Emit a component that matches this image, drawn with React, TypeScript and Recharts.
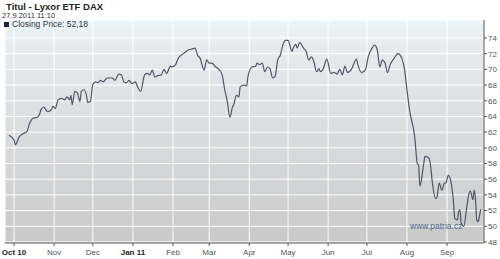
import React from "react";
import { LineChart, Line, XAxis, YAxis, CartesianGrid } from "recharts";

// closing prices (27.9.2010 - 27.9.2011)
const dates = [
  "2010-09-27", "2010-10-01", "2010-10-02", "2010-10-05", "2010-10-09", "2010-10-11", "2010-10-13",
  "2010-10-16", "2010-10-19", "2010-10-21", "2010-10-22", "2010-10-24", "2010-10-27", "2010-10-30",
  "2010-10-31", "2010-11-02", "2010-11-04", "2010-11-07", "2010-11-09", "2010-11-11", "2010-11-13",
  "2010-11-14", "2010-11-15", "2010-11-17", "2010-11-19", "2010-11-21", "2010-11-22", "2010-11-24",
  "2010-11-26", "2010-11-27", "2010-11-29", "2010-12-01", "2010-12-03", "2010-12-05", "2010-12-07",
  "2010-12-09", "2010-12-12", "2010-12-16", "2010-12-18", "2010-12-21", "2010-12-23", "2010-12-25",
  "2010-12-27", "2010-12-29", "2010-12-31", "2011-01-03", "2011-01-04", "2011-01-07", "2011-01-10",
  "2011-01-12", "2011-01-14", "2011-01-16", "2011-01-18", "2011-01-20", "2011-01-23", "2011-01-25",
  "2011-01-27", "2011-01-30", "2011-01-31", "2011-02-03", "2011-02-05", "2011-02-09", "2011-02-13",
  "2011-02-16", "2011-02-18", "2011-02-20", "2011-02-22", "2011-02-25", "2011-02-27", "2011-03-01",
  "2011-03-03", "2011-03-06", "2011-03-08", "2011-03-11", "2011-03-13", "2011-03-15", "2011-03-17",
  "2011-03-19", "2011-03-20", "2011-03-22", "2011-03-24", "2011-03-25", "2011-03-28", "2011-03-30",
  "2011-03-31", "2011-04-03", "2011-04-06", "2011-04-07", "2011-04-09", "2011-04-11", "2011-04-13",
  "2011-04-15", "2011-04-17", "2011-04-19", "2011-04-21", "2011-04-23", "2011-04-25", "2011-04-27",
  "2011-04-29", "2011-05-01", "2011-05-04", "2011-05-05", "2011-05-07", "2011-05-08", "2011-05-10",
  "2011-05-13", "2011-05-15", "2011-05-17", "2011-05-19", "2011-05-21", "2011-05-23", "2011-05-25",
  "2011-05-26", "2011-05-28", "2011-05-31", "2011-06-03", "2011-06-06", "2011-06-08", "2011-06-10",
  "2011-06-12", "2011-06-14", "2011-06-16", "2011-06-19", "2011-06-23", "2011-06-24", "2011-06-27",
  "2011-06-30", "2011-07-02", "2011-07-05", "2011-07-07", "2011-07-09", "2011-07-11", "2011-07-13",
  "2011-07-15", "2011-07-17", "2011-07-19", "2011-07-22", "2011-07-25", "2011-07-28", "2011-07-30",
  "2011-08-01", "2011-08-03", "2011-08-07", "2011-08-09", "2011-08-10", "2011-08-11", "2011-08-14",
  "2011-08-15", "2011-08-18", "2011-08-19", "2011-08-21", "2011-08-23", "2011-08-24", "2011-08-26",
  "2011-08-28", "2011-08-30", "2011-08-31", "2011-09-02", "2011-09-04", "2011-09-06", "2011-09-07",
  "2011-09-09", "2011-09-10", "2011-09-11", "2011-09-12", "2011-09-14", "2011-09-16", "2011-09-18",
  "2011-09-19", "2011-09-21", "2011-09-22", "2011-09-23", "2011-09-24", "2011-09-25", "2011-09-26",
  "2011-09-27",
];

const closes = [
  61.6, 61.0, 60.4, 61.4, 61.9, 62.1, 63.1,
  63.8, 63.9, 64.4, 64.9, 65.2, 64.6, 64.9,
  65.3, 65.0, 66.1, 66.3, 66.1, 66.5, 66.1,
  66.7, 65.5, 67.2, 67.0, 65.9, 67.2, 67.4,
  66.7, 65.8, 65.9, 68.1, 68.4, 68.3, 68.6,
  68.4, 68.9, 68.9, 68.6, 69.4, 69.3, 68.4,
  68.3, 68.6, 68.2, 68.4, 68.0, 67.2, 69.3,
  69.5, 69.3, 69.9, 69.0, 69.2, 69.3, 70.0,
  69.5, 70.4, 70.3, 70.6, 71.4, 72.0, 72.5,
  72.6, 72.7, 71.8, 71.4, 69.9, 71.2, 70.8,
  70.8, 70.3, 70.1, 69.3, 67.4, 65.9, 63.9,
  65.2, 65.5, 66.7, 66.5, 67.8, 68.0, 67.9,
  69.1, 70.3, 70.4, 70.8, 70.6, 70.8, 69.7,
  70.3, 70.1, 68.9, 69.1, 71.2, 71.8, 73.1,
  73.7, 73.7, 72.3, 72.7, 73.2, 72.7, 73.4,
  72.7, 72.3, 71.2, 71.6, 71.0, 69.7, 70.1,
  69.7, 70.0, 71.3, 69.5, 69.6, 69.4, 70.0,
  69.3, 70.4, 69.6, 70.0, 71.3, 70.6, 69.6,
  70.0, 71.6, 72.7, 73.1, 72.5, 70.3, 71.2,
  70.8, 69.6, 70.6, 71.4, 72.0, 71.4, 70.1,
  67.4, 64.8, 61.4, 58.0, 57.8, 55.1, 58.0,
  58.9, 58.7, 58.0, 55.1, 53.6, 53.6, 55.5,
  54.6, 55.5, 55.5, 56.5, 55.7, 53.1, 51.0,
  50.8, 51.9, 52.1, 50.4, 50.0, 52.1, 54.2,
  54.5, 53.4, 54.6, 53.4, 50.8, 50.6, 51.2,
  52.18,
];

const monthStarts = [
  "2010-10-01", "2010-11-01", "2010-12-01", "2011-01-01", "2011-02-01", "2011-03-01",
  "2011-04-01", "2011-05-01", "2011-06-01", "2011-07-01", "2011-08-01", "2011-09-01",
];
const monthLabels = ["Oct 10", "Nov", "Dec", "Jan 11", "Feb", "Mar", "Apr", "May", "Jun", "Jul", "Aug", "Sep"];
const priceTicks = [48, 50, 52, 54, 56, 58, 60, 62, 64, 66, 68, 70, 72, 74];

const DAY = 86400000;
const toTime = (s: string) => {
  const [y, m, d] = s.split("-").map(Number);
  return Date.UTC(y, m - 1, d);
};

const data = dates.map((d, i) => ({ t: toTime(d), close: closes[i] }));
const monthTimes = monthStarts.map(toTime);
const origin = toTime("2010-10-01");
const xDomain = [origin - 7 * DAY, origin + 363.6 * DAY];

const font = "'Liberation Sans', Arial, sans-serif";

function MonthTick(props: any) {
  const { x, y, payload } = props;
  const idx = monthTimes.indexOf(payload.value);
  const label = monthLabels[idx] ?? "";
  const bold = /\d/.test(label);
  return (
    <text
      x={x}
      y={y + 7}
      textAnchor="middle"
      fontSize={8}
      fontFamily={font}
      fontWeight={bold ? 700 : 400}
      fill={bold ? "#222" : "#555"}
    >
      {label}
    </text>
  );
}

export default function App() {
  return (
    <div style={{ position: "absolute", left: 0, top: 0, width: 500, height: 259, background: "#fff", fontFamily: font }}>
      <LineChart width={500} height={259} data={data} margin={{ top: 20, right: 0, bottom: 0, left: 5 }}>
        <defs>
          <linearGradient id="plotBg" x1="0" y1="0" x2="0" y2="1">
            <stop offset="0%" stopColor="#eaf6fc" />
            <stop offset="12%" stopColor="#e7ebee" />
            <stop offset="100%" stopColor="#c9c9c9" />
          </linearGradient>
        </defs>
        <CartesianGrid stroke="#ffffff" strokeWidth={1} fill="url(#plotBg)" fillOpacity={1} />
        <XAxis
          dataKey="t"
          type="number"
          scale="linear"
          domain={xDomain}
          allowDataOverflow
          ticks={monthTimes}
          interval={0}
          height={16}
          stroke="#555"
          tickSize={3}
          tick={<MonthTick />}
        />
        <YAxis
          orientation="right"
          domain={[47.87, 76.29]}
          allowDataOverflow
          ticks={priceTicks}
          interval={0}
          width={16}
          stroke="#555"
          tickSize={3}
          tick={{ fontSize: 8, fill: "#555", fontFamily: font, dx: -1 }}
        />
        <Line
          type="monotone"
          dataKey="close"
          stroke="#4c5668"
          strokeWidth={1.2}
          dot={false}
          isAnimationActive={false}
        />
      </LineChart>
      <div style={{ position: "absolute", left: 6, top: 1, fontSize: 9.5, fontWeight: 700, color: "#222" }}>
        Titul - Lyxor ETF DAX
      </div>
      <div style={{ position: "absolute", left: 2, top: 11, fontSize: 7.5, color: "#333" }}>27.9.2011 11:10</div>
      <div style={{ position: "absolute", left: 4, top: 19, fontSize: 8.5, color: "#333", display: "flex", alignItems: "center" }}>
        <span style={{ display: "inline-block", width: 5, height: 5, background: "#1b2440", marginRight: 3 }} />
        Closing Price: 52,18
      </div>
      <div style={{ position: "absolute", left: 410, top: 221, fontSize: 8.5, color: "#56648c" }}>www.patria.cz</div>
    </div>
  );
}
